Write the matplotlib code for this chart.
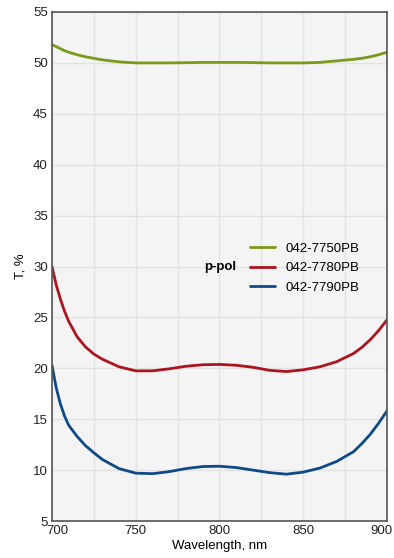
import matplotlib
matplotlib.use('Agg')
import matplotlib.pyplot as plt
from matplotlib.transforms import ScaledTranslation

plt.rcParams['font.family'] = ['Liberation Sans', 'DejaVu Sans']

wavelength = [700, 702.5, 705, 707.5, 710, 715, 720, 725, 730, 740, 750, 760, 770, 780, 790,
              800, 810, 820, 830, 840, 850, 860, 870, 880, 885, 890, 895, 900]

t_7750 = [51.8, 51.6, 51.4, 51.2, 51.05, 50.8, 50.6, 50.45, 50.3, 50.1, 50.0, 50.0, 50.0,
          50.02, 50.05, 50.05, 50.05, 50.03, 50.0, 50.0, 50.0, 50.05, 50.2, 50.35, 50.45,
          50.6, 50.8, 51.05]
t_7780 = [30.0, 28.2, 26.8, 25.6, 24.6, 23.1, 22.1, 21.4, 20.9, 20.15, 19.75, 19.75, 19.95,
          20.2, 20.35, 20.38, 20.3, 20.1, 19.8, 19.68, 19.85, 20.15, 20.65, 21.45, 22.05,
          22.8, 23.7, 24.75]
t_7790 = [20.3, 18.1, 16.5, 15.3, 14.4, 13.3, 12.4, 11.7, 11.05, 10.15, 9.7, 9.65, 9.85,
          10.15, 10.35, 10.38, 10.25, 10.0, 9.75, 9.6, 9.8, 10.2, 10.85, 11.8, 12.6,
          13.5, 14.6, 15.8]

series = [
    ('042-7750PB', t_7750, '#7a9a1c'),
    ('042-7780PB', t_7780, '#ac1420'),
    ('042-7790PB', t_7790, '#0e4a88'),
]

x_ticks = [700, 750, 800, 850, 900]
y_ticks = [5, 10, 15, 20, 25, 30, 35, 40, 45, 50, 55]

fig = plt.figure(figsize=(3.94, 5.58), dpi=100)
ax = fig.add_axes([0.132, 0.0663, 0.85, 0.9122])
ax.set_facecolor('#f4f4f4')

for name, vals, color in series:
    ax.plot(wavelength, vals, color=color, linewidth=2, label=name,
            solid_joinstyle='round', solid_capstyle='round')

ax.set_xlim(700, 900)
ax.set_ylim(5, 55)
ax.set_xticks(x_ticks)
ax.set_xticks([725, 775, 825, 875], minor=True)
ax.set_yticks(y_ticks)
ax.grid(True, which='both', color='#e2e2e2', linewidth=1)
ax.set_axisbelow(True)
ax.tick_params(which='both', length=0, labelsize=9.5, colors='#222222', pad=3)
for s in ax.spines.values():
    s.set_color('#555555')
    s.set_linewidth(1.2)

# keep the end labels inside the plot width
xlabels = ax.get_xticklabels()
xlabels[0].set_transform(xlabels[0].get_transform()
                         + ScaledTranslation(5 / 100, 0, fig.dpi_scale_trans))
xlabels[-1].set_transform(xlabels[-1].get_transform()
                          + ScaledTranslation(-5 / 100, 0, fig.dpi_scale_trans))

ax.set_xlabel('Wavelength, nm', fontsize=9.5, labelpad=2)
ax.set_ylabel('T, %', fontsize=9.5, labelpad=5)

ax.legend(loc='center left', bbox_to_anchor=(0.555, 0.497), frameon=False,
          fontsize=9.5, handlelength=1.9, handletextpad=0.8, labelspacing=0.55)
ax.text(0.455, 0.499, 'p-pol', transform=ax.transAxes, fontsize=9.5,
        fontweight='bold', va='center', ha='left')

fig.savefig('out.png', dpi=100)
